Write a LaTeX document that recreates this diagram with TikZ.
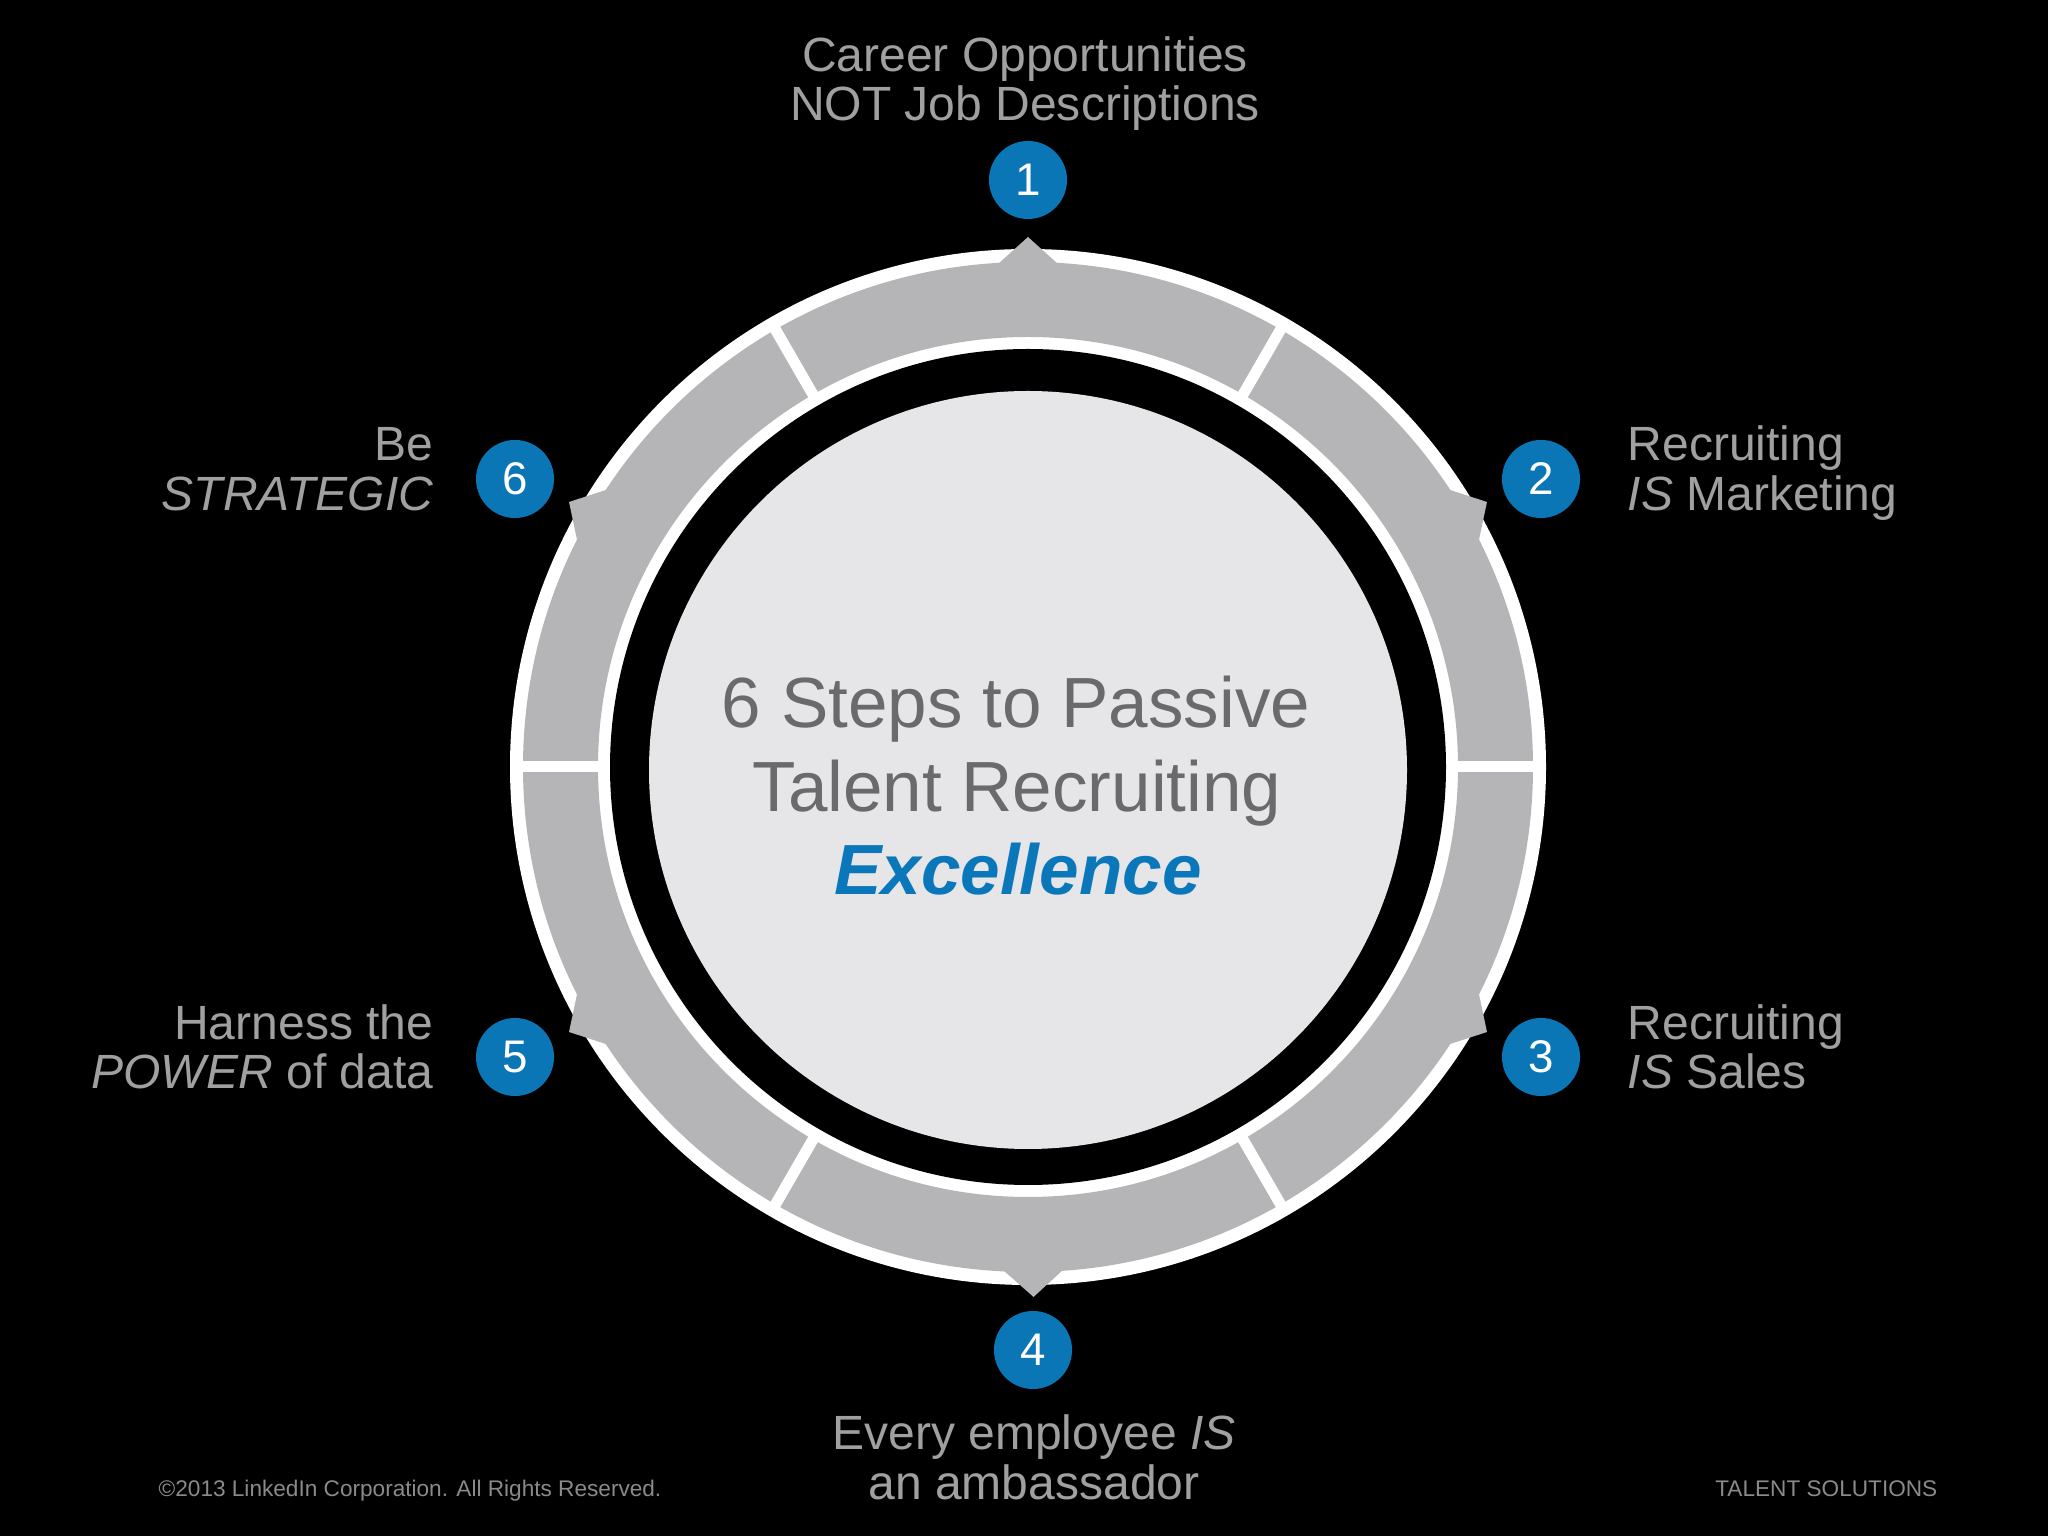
\documentclass[tikz,border=0pt]{standalone}
\usepackage{fontspec}
\setmainfont{Liberation Sans}
\usetikzlibrary{calc}
\definecolor{lblgray}{HTML}{A0A0A0}
\definecolor{ctrgray}{HTML}{6A6A6C}
\definecolor{badgeblue}{HTML}{0A76B6}
\definecolor{exblue}{HTML}{0A77BA}
\definecolor{ringgray}{HTML}{B5B4B6}
\definecolor{lightdisk}{HTML}{E6E5E8}
\definecolor{footgray}{HTML}{8A8A8A}
\begin{document}
\begin{tikzpicture}[x=0.01cm,y=0.01cm,
  lbl/.style={text=lblgray, inner sep=0, font=\fontsize{13.66}{16}\selectfont},
  ctr/.style={text=ctrgray, inner sep=0, font=\fontsize{20.2}{24}\selectfont},
  badge/.style={circle, fill=badgeblue, minimum size=0.78cm, inner sep=0, text=white, font=\fontsize{13}{15}\selectfont},
  foot/.style={text=footgray, inner sep=0, font=\fontsize{6.43}{8}\selectfont},
  divider/.style={white, line width=0.11cm},
  tip/.style={fill=ringgray}]
\useasboundingbox (0,0) rectangle (2048,1536);
\fill[black] (0,0) rectangle (2048,1536);
\coordinate (C) at (1028,769);
% outer white disk
\fill[white] (C) circle (518);
% gray ring
\fill[ringgray, even odd rule] (C) circle (505) (C) circle (430);
% arrow tips
\foreach \a in {90,30,-30,-89.4,-150,150}{
  \fill[tip] ($(C)+(\a:530)$) -- ($(C)+(\a+5.5:490)$) -- ($(C)+(\a-5.5:490)$) -- cycle;
}
% dividers
\foreach \a in {0,60,120,180,240,300}{
  \draw[divider] ($(C)+(\a:420)$) -- ($(C)+(\a:511)$);
}
% black ring and light disk
\fill[black] (C) circle (418);
\fill[lightdisk] (1028,766) circle (379);
% badges
\node[badge] (b1) at (1028,1356) {1};
\node[badge] (b2) at (1541,1057) {2};
\node[badge] (b3) at (1541,479) {3};
\node[badge] (b4) at (1033,186) {4};
\node[badge] (b5) at (515,479) {5};
\node[badge] (b6) at (515,1057) {6};
% labels
\node[lbl, anchor=base] (l1a) at (1025,1464) {Career Opportunities};
\node[lbl, anchor=base] (l1b) at (1025,1415) {NOT Job Descriptions};
\node[lbl, anchor=base west] (l2a) at (1627,1075) {Recruiting};
\node[lbl, anchor=base west] (l2b) at (1627,1025) {\textit{IS} Marketing};
\node[lbl, anchor=base west] (l3a) at (1627,496) {Recruiting};
\node[lbl, anchor=base west] (l3b) at (1627,447) {\textit{IS} Sales};
\node[lbl, anchor=base] (l4a) at (1034,86) {Every employee \textit{IS}};
\node[lbl, anchor=base] (l4b) at (1034,37) {an ambassador};
\node[lbl, anchor=base east] (l5a) at (434,496) {Harness the};
\node[lbl, anchor=base east] (l5b) at (434,447) {\textit{POWER} of data};
\node[lbl, anchor=base east] (l6a) at (434,1075) {Be};
\node[lbl, anchor=base east] (l6b) at (434,1025) {\textit{STRATEGIC}};
% center text
\node[ctr, anchor=base] (c1) at (1016,808) {6 Steps to Passive};
\node[ctr, anchor=base] (c2) at (1017,724) {Talent Recruiting};
\node[ctr, anchor=base, text=exblue] (c3) at (1018,641) {\textbf{\textit{Excellence}}};
% footer
\node[foot, anchor=base west] (f1) at (158,39) {©2013 LinkedIn Corporation. All Rights Reserved.};
\node[foot, anchor=base east] (f2) at (1938,40) {TALENT SOLUTIONS};
\end{tikzpicture}
\end{document}
